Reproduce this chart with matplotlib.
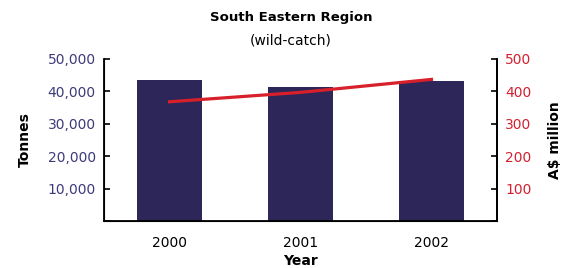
import matplotlib
matplotlib.use("Agg")
import matplotlib.pyplot as plt

# Datos
years = ["2000", "2001", "2002"]
tonnes = [43500, 41400, 43200]
value_m = [368, 397, 437]
left_ticks = [0, 10000, 20000, 30000, 40000, 50000]
right_ticks = [0, 100, 200, 300, 400, 500]

bar_color = "#2c2659"
line_color = "#d7202a"
left_tick_color = "#3d3a7a"
right_tick_color = "#d42030"

plt.rcParams["font.family"] = "DejaVu Sans"

fig = plt.figure(figsize=(5.72, 2.68), dpi=100)
W, H = 572, 268
ax = fig.add_axes([104 / W, (H - 221) / H, (497 - 104) / W, (221 - 59) / H])

x = list(range(len(years)))
ax.bar(x, tonnes, width=0.5, color=bar_color, zorder=2)
ax.set_xlim(-0.5, 2.5)
ax.set_ylim(0, 50000)
ax.set_yticks(left_ticks)
ax.set_yticklabels(["" if v == 0 else f"{v:,}" for v in left_ticks])
ax.set_xticks(x)
ax.set_xticklabels(years)
ax.tick_params(axis="y", direction="in", length=4, width=1.2, colors="black",
               labelcolor=left_tick_color, labelsize=10, pad=6)
ax.tick_params(axis="x", length=0, labelsize=10, pad=11)
ax.spines["top"].set_visible(False)
for s in ["left", "right", "bottom"]:
    ax.spines[s].set_linewidth(1.3)
ax.set_ylabel("Tonnes", fontweight="bold", fontsize=10, labelpad=11)
ax.set_xlabel("Year", fontweight="bold", fontsize=10, labelpad=3)

ax2 = ax.twinx()
ax2.plot(x, value_m, color=line_color, linewidth=2.3, zorder=3)
ax2.set_ylim(0, 500)
ax2.set_yticks(right_ticks)
ax2.set_yticklabels(["" if v == 0 else str(v) for v in right_ticks])
ax2.tick_params(axis="y", direction="in", length=4, width=1.2, colors="black",
                labelcolor=right_tick_color, labelsize=10, pad=6)
ax2.spines["top"].set_visible(False)
ax2.spines["right"].set_linewidth(1.3)
ax2.set_ylabel("A$ million", fontweight="bold", fontsize=10, labelpad=12)

fig.text(291 / W, 1 - 18 / H, "South Eastern Region", ha="center", va="center",
         fontweight="bold", fontsize=9.5)
fig.text(291 / W, 1 - 40 / H, "(wild-catch)", ha="center", va="center", fontsize=10)

fig.savefig("out.png", dpi=100)
